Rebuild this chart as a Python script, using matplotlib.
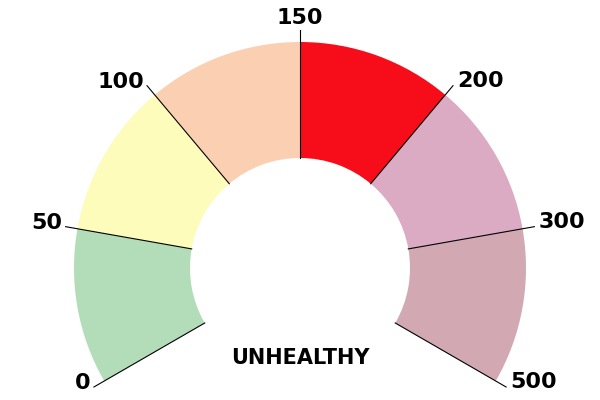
import matplotlib
matplotlib.use("Agg")
import matplotlib.pyplot as plt
from matplotlib.patches import Wedge
import numpy as np

ticks = [0, 50, 100, 150, 200, 300, 500]
colors = ["#b3dcb9", "#fdfcba", "#fbd0b2", "#f70d1a", "#dbaac3", "#d2a9b3"]
label = "UNHEALTHY"

fig = plt.figure(figsize=(6, 4), dpi=100)
ax = fig.add_axes([0, 0, 1, 1])
ax.set_xlim(0, 600)
ax.set_ylim(0, 400)
ax.set_aspect("equal")
ax.axis("off")

cx, cy = 300, 400 - 268
R, r = 226, 110
start, span = 210, 240
n = len(ticks) - 1
angs = [start - span * i / n for i in range(n + 1)]
for i in range(n):
    ax.add_patch(Wedge((cx, cy), R, angs[i + 1], angs[i], width=R - r,
                       facecolor=colors[i], edgecolor="none"))
for t, a in zip(ticks, angs):
    th = np.deg2rad(a)
    ex, ey = cx + (R + 12) * np.cos(th), cy + (R + 12) * np.sin(th)
    ax.plot([cx + r * np.cos(th), ex], [cy + r * np.sin(th), ey], color="black", lw=0.8)
    c = np.cos(th)
    if abs(c) < 0.1:
        ax.text(ex, ey + 2, str(t), ha="center", va="bottom", fontsize=16, fontweight="bold")
    elif c < 0:
        ax.text(ex - 3, ey + 4, str(t), ha="right", va="center", fontsize=16, fontweight="bold")
    else:
        ax.text(ex + 4, ey + 5, str(t), ha="left", va="center", fontsize=16, fontweight="bold")
ax.text(300, 400 - 358, label, ha="center", va="center", fontsize=15, fontweight="bold")
fig.savefig("out.png", dpi=100)
